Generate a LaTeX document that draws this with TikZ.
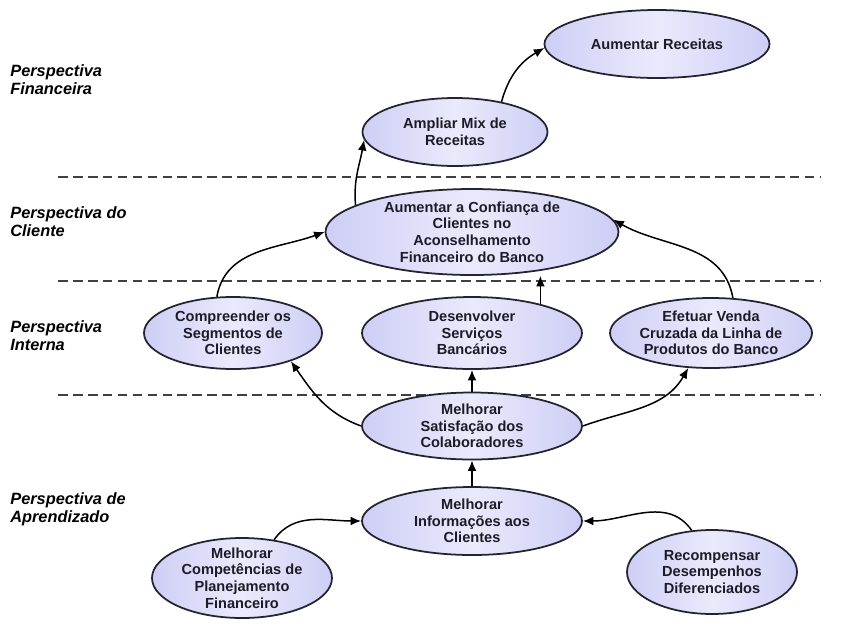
\documentclass[tikz,border=0pt]{standalone}
\usepackage{fontspec}
\setmainfont{Liberation Sans}
\usetikzlibrary{shapes.geometric, arrows.meta}

\definecolor{lav}{RGB}{206,206,246}
\definecolor{lavlight}{RGB}{234,234,252}
\definecolor{rim}{RGB}{36,36,48}
\definecolor{inkdark}{RGB}{28,28,40}

\begin{document}
\begin{tikzpicture}[x=0.02cm, y=0.02cm,
    goal/.style={ellipse, draw=rim, line width=1pt, left color=lav, right color=lav, middle color=lavlight,
        inner sep=-3pt, align=center, text=inkdark, font=\fontsize{8.3}{9.5}\selectfont\bfseries},
    dims/.style 2 args={minimum width=#1*0.02cm, minimum height=#2*0.02cm},
    flow/.style={-{Latex[length=6pt, width=5pt]}, line width=0.85pt},
    divider/.style={draw=black!75, line width=1.2pt, dash pattern=on 5.5pt off 3pt}]

    \useasboundingbox (0,0) rectangle (841,-636);

    % perspectives
    \foreach \y/\txt [count=\i] in {64/{Perspectiva\\Financeira}, 206/{Perspectiva do\\Cliente}, 320/{Perspectiva\\Interna}, 492/{Perspectiva de\\Aprendizado}}
        \node (persp\i) at (10,-\y) [anchor=north west, align=left, inner sep=0pt, font=\fontsize{9.3}{10.6}\selectfont\bfseries\itshape] {\txt};

    \foreach \y in {177, 281, 395}
        \draw [divider] (58,-\y) -- (820,-\y);

    % objectives
    \node (rec) at (657,-44) [goal, dims={225}{68}] {Aumentar Receitas};
    \node (mix) at (455,-132) [goal, dims={185}{68}] {Ampliar Mix de\\Receitas};
    \node (conf) at (472,-232) [goal, dims={293}{86}] {Aumentar a Confiança de\\Clientes no\\Aconselhamento\\Financeiro do Banco};
    \node (seg) at (233,-333) [goal, dims={178}{72}] {Compreender os\\Segmentos de\\Clientes};
    \node (serv) at (472,-333) [goal, dims={220}{72}] {Desenvolver\\Serviços\\Bancários};
    \node (venda) at (711,-333) [goal, dims={202}{70}] {Efetuar Venda\\Cruzada da Linha de\\Produtos do Banco};
    \node (satisf) at (472,-426) [goal, dims={220}{67}] {Melhorar\\Satisfação dos\\Colaboradores};
    \node (info) at (472,-521) [goal, dims={220}{68}] {Melhorar\\Informações aos\\Clientes};
    \node (compet) at (242,-578) [goal, dims={180}{80}] {Melhorar\\Competências de\\Planejamento\\Financeiro};
    \node (recomp) at (712,-572) [goal, dims={170}{84}] {Recompensar\\Desempenhos\\Diferenciados};

    % cause and effect
    \draw [flow] (mix.33) to [out=75, in=210] (rec.182);
    \draw [flow] (conf.167) to [out=95, in=-100] (mix.185);
    \draw [flow] (seg.114) to [out=80, in=200] (conf.180);
    \draw [flow] (serv.23) -- (serv.23 |- conf.south);
    \draw [flow] (venda.58) to [out=100, in=-30] (conf.5);

    \draw [flow] (satisf.west) to [out=160, in=-55] (seg.-26);
    \draw [flow] (satisf.north) -- (serv.south);
    \draw [flow] (satisf.east) to [out=20, in=-120] (venda.237);

    \draw [flow] (info.north) -- (satisf.south);
    \draw [flow] (compet.50) to [out=55, in=180] (info.west);
    \draw [flow] (recomp.116) to [out=125, in=0] (info.east);
\end{tikzpicture}
\end{document}
